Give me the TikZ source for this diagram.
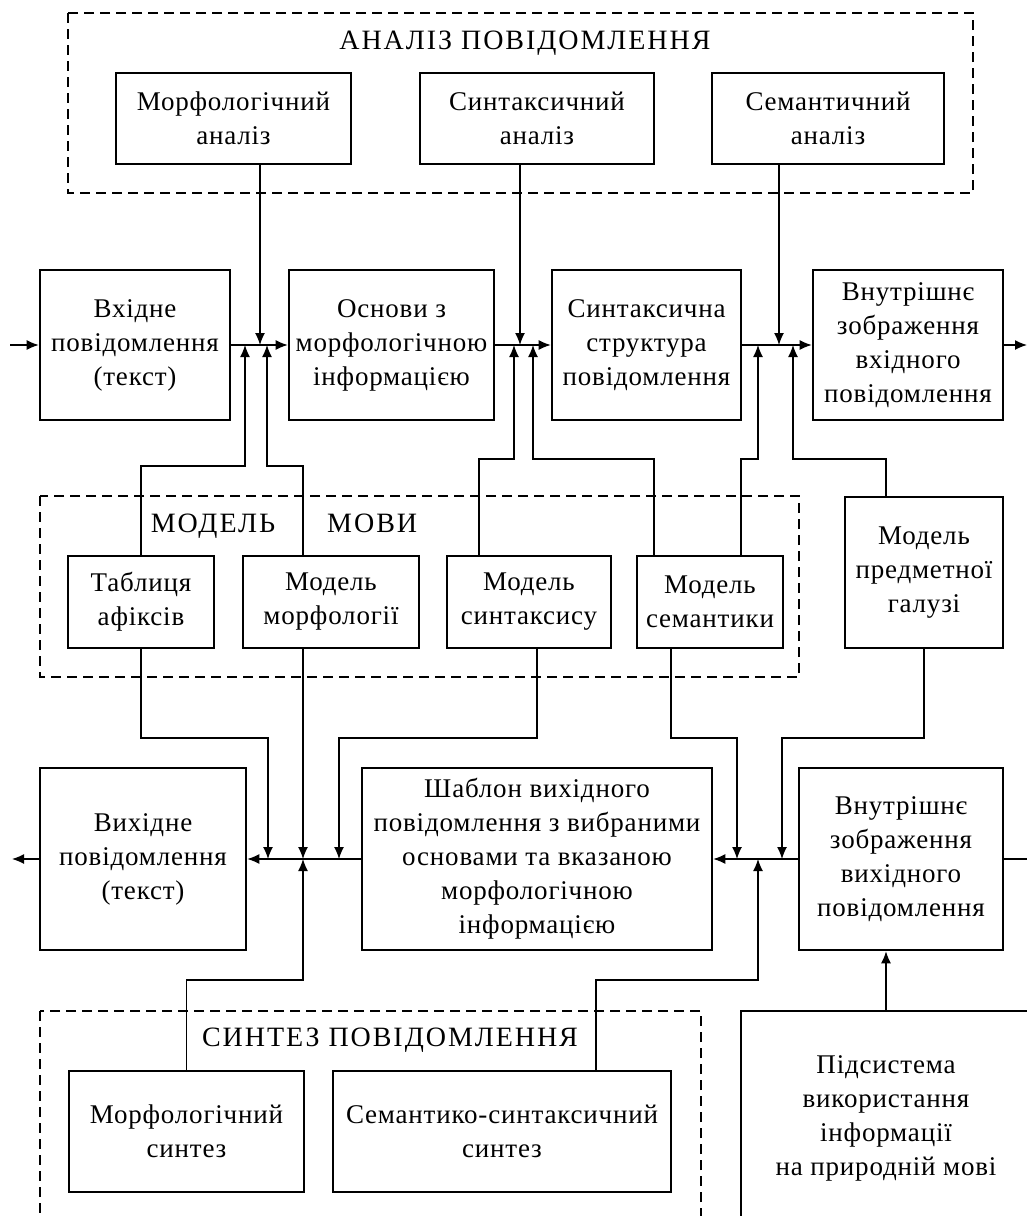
\documentclass[tikz,border=0pt]{standalone}
\usepackage{fontspec}
\setmainfont{Liberation Serif}[LetterSpace=3]
\usetikzlibrary{arrows.meta}
\tikzstyle{block}=[draw, line width=2.6pt, inner sep=0pt, align=center, font=\fontsize{27}{34}\selectfont]
\tikzstyle{title}=[inner sep=0pt, font=\fontsize{28}{34}\selectfont\addfontfeature{LetterSpace=7}]
\tikzstyle{frame}=[line width=1.2pt, dash pattern=on 10pt off 6pt]
\tikzstyle{wire}=[line width=1.3pt]
\tikzstyle{arrow}=[line width=1.3pt, -{Latex[length=12pt,width=10pt]}]
\begin{document}
\begin{tikzpicture}[x=1pt,y=-1pt]
  \path[use as bounding box, clip] (0,0) rectangle (1027,1216);

  %% Analysis
  \draw[frame] (68,13) rectangle (973,193);
  \draw (525,43) node[title] (antitle) {АНАЛІЗ ПОВІДОМЛЕННЯ};
  \draw (233.5,118.5) node[block, minimum width=235pt, minimum height=91pt] (morfan) {Морфологічний\\аналіз};
  \draw (537,118.5) node[block, minimum width=234pt, minimum height=91pt] (syntan) {Синтаксичний\\аналіз};
  \draw (828,118.5) node[block, minimum width=232pt, minimum height=91pt] (seman) {Семантичний\\аналіз};

  %% Input chain
  \draw (135,345) node[block, minimum width=190pt, minimum height=150pt] (vhid) {Вхідне\\повідомлення\\(текст)};
  \draw (391.5,345) node[block, minimum width=205pt, minimum height=150pt] (osnovy) {Основи з\\морфологічною\\інформацією};
  \draw (646.5,345) node[block, minimum width=189pt, minimum height=150pt] (syntstr) {Синтаксична\\структура\\повідомлення};
  \draw (908,345) node[block, minimum width=190pt, minimum height=150pt] (vnutrvh) {Внутрішнє\\зображення\\вхідного\\повідомлення};

  %% Language model
  \draw[frame] (40,496) rectangle (799,677);
  \draw (284,526) node[title] (modtitle) {МОДЕЛЬ\hspace{52pt}МОВИ};
  \draw (141,602) node[block, minimum width=146pt, minimum height=92pt] (tabl) {Таблиця\\афіксів};
  \draw (331,602) node[block, minimum width=176pt, minimum height=92pt] (modmorf) {Модель\\морфології};
  \draw (529,602) node[block, minimum width=164pt, minimum height=92pt] (modsynt) {Модель\\синтаксису};
  \draw (710,602) node[block, minimum width=146pt, minimum height=92pt] (modsem) {Модель\\семантики};
  \draw (924,572.5) node[block, minimum width=158pt, minimum height=151pt] (modpred) {Модель\\предметної\\галузі};

  %% Output chain
  \draw (143,859) node[block, minimum width=206pt, minimum height=182pt] (vyhid) {Вихідне\\повідомлення\\(текст)};
  \draw (537,859) node[block, minimum width=350pt, minimum height=182pt] (shabl) {Шаблон вихідного\\повідомлення з вибраними\\основами та вказаною\\морфологічною\\інформацією};
  \draw (901,859) node[block, minimum width=204pt, minimum height=182pt] (vnutrvyh) {Внутрішнє\\зображення\\вихідного\\повідомлення};

  %% Synthesis
  \draw[frame] (40,1011) rectangle (701,1240);
  \draw (390,1040) node[title] (sntitle) {СИНТЕЗ ПОВІДОМЛЕННЯ};
  \draw (186.5,1131.5) node[block, minimum width=235pt, minimum height=121pt] (morfsyn) {Морфологічний\\синтез};
  \draw (502,1131.5) node[block, minimum width=338pt, minimum height=121pt] (semsyn) {Семантико-синтаксичний\\синтез};
  \draw (886,1118) node[block, minimum width=290pt, minimum height=214pt] (pidsys) {Підсистема\\використання\\інформації\\на природній мові};

  %% Junctions and free ends
  \coordinate (in) at (10,345);
  \coordinate (out) at (1027,345);
  \coordinate (a1) at (245,345);
  \coordinate (a2) at (260,345);
  \coordinate (a3) at (267,345);
  \coordinate (b1) at (514,345);
  \coordinate (b2) at (520,345);
  \coordinate (b3) at (533,345);
  \coordinate (c1) at (758,345);
  \coordinate (c2) at (779,345);
  \coordinate (c3) at (793,345);
  \coordinate (up1) at (0,466);
  \coordinate (up2) at (0,459);
  \coordinate (out2) at (12,859);
  \coordinate (back) at (1027,859);
  \coordinate (d1) at (268,859);
  \coordinate (d2) at (303,859);
  \coordinate (d3) at (339,859);
  \coordinate (e1) at (737,859);
  \coordinate (e2) at (758,859);
  \coordinate (e3) at (782,859);
  \coordinate (dn) at (0,738);
  \coordinate (lo) at (0,980);

  %% Upper line
  \draw[arrow] (in) -- (vhid);
  \draw[arrow] (vhid) -- (osnovy);
  \draw[arrow] (osnovy) -- (syntstr);
  \draw[arrow] (syntstr) -- (vnutrvh);
  \draw[arrow] (vnutrvh) -- (out);
  \draw[arrow] (morfan.south -| a2) -- (a2);
  \draw[arrow] (syntan.south -| b2) -- (b2);
  \draw[arrow] (seman.south -| c2) -- (c2);

  \draw[arrow] (tabl.north) -- (tabl.north |- up1) -| (a1);
  \draw[arrow] (modmorf.north -| d2) -- (d2 |- up1) -| (a3);
  \draw[arrow] ([xshift=-50pt]modsynt.north) |- (up2 -| b1) -- (b1);
  \draw[arrow] ([xshift=-56pt]modsem.north) |- (up2 -| b3) -- (b3);
  \draw[arrow] ([xshift=31pt]modsem.north) |- (up2 -| c1) -- (c1);
  \draw[arrow] ([xshift=-38pt]modpred.north) |- (up2 -| c3) -- (c3);

  %% Lower line
  \draw[arrow] (vnutrvyh) -- (shabl);
  \draw[arrow] (shabl) -- (vyhid);
  \draw[arrow] (vyhid) -- (out2);
  \draw[wire] (vnutrvyh) -- (back);
  \draw[arrow] (pidsys.north) -- (pidsys.north |- vnutrvyh.south);

  \draw[arrow] (tabl.south) |- (dn -| d1) -- (d1);
  \draw[arrow] (modmorf.south -| d2) -- (d2);
  \draw[arrow] ([xshift=8pt]modsynt.south) |- (dn -| d3) -- (d3);
  \draw[arrow] ([xshift=-39pt]modsem.south) |- (dn -| e1) -- (e1);
  \draw[arrow] (modpred.south) |- (dn -| e3) -- (e3);
  \draw[arrow] (morfsyn.north) |- (lo -| d2) -- (d2);
  \draw[arrow] ([xshift=94pt]semsyn.north) |- (lo -| e2) -- (e2);
\end{tikzpicture}
\end{document}
